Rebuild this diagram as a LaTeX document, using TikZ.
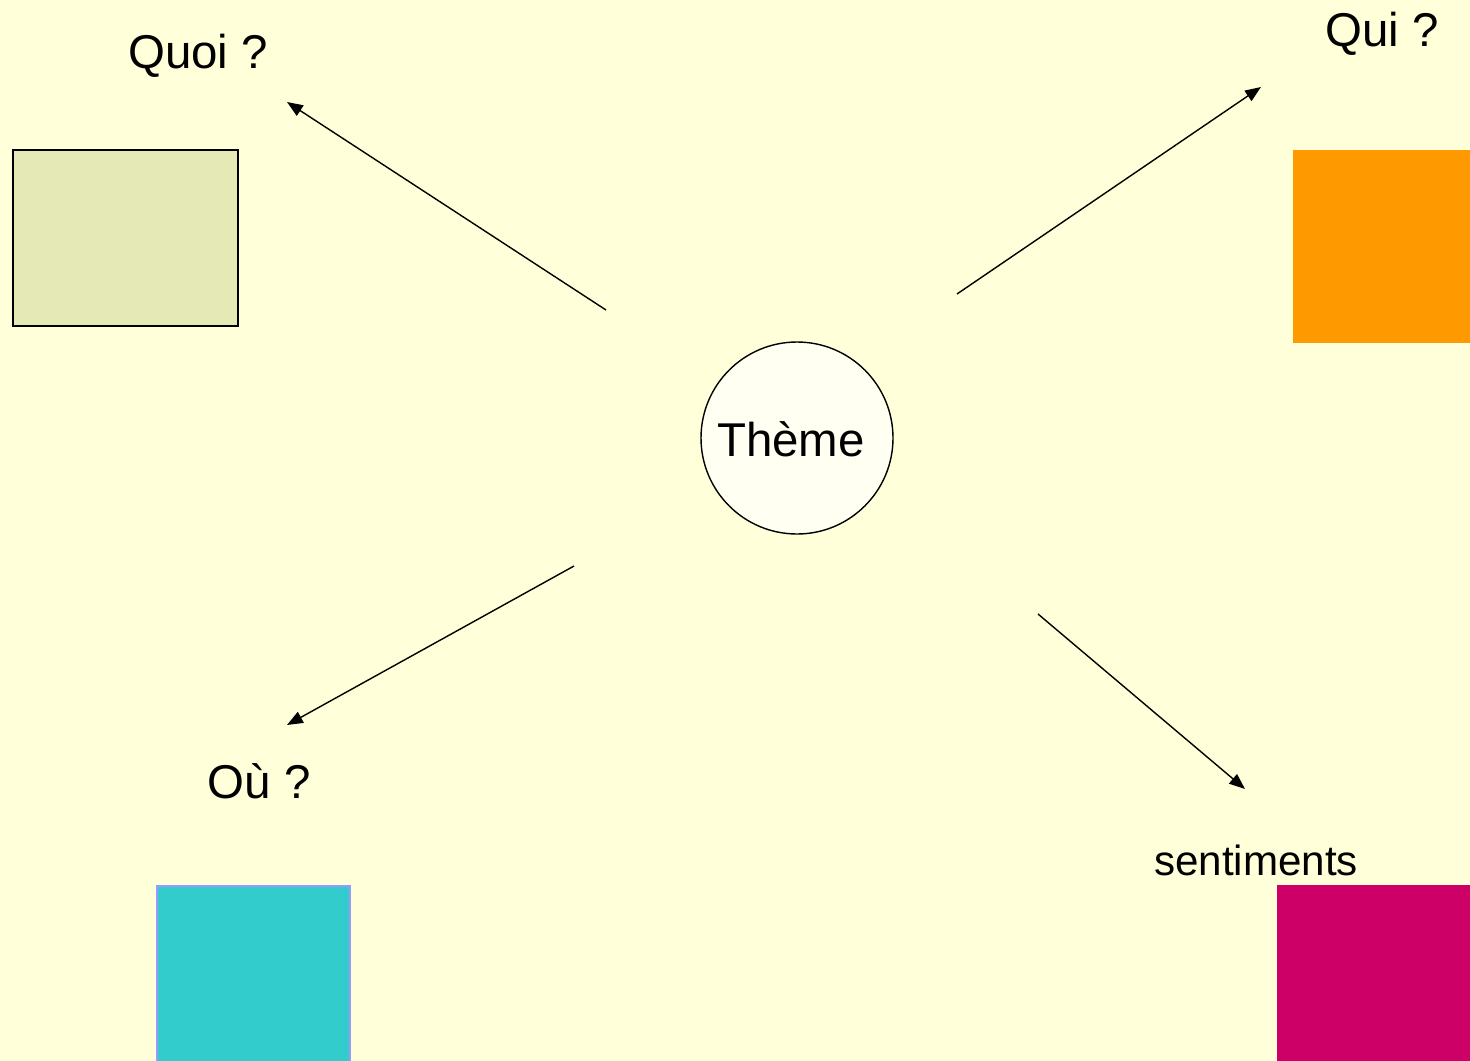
\documentclass[tikz,border=0pt]{standalone}
\usepackage{fontspec}
\setmainfont{Liberation Sans}
\usetikzlibrary{arrows.meta}
\definecolor{fond}{HTML}{FFFFD9}
\definecolor{vertpale}{HTML}{E5E9B5}
\definecolor{orange}{HTML}{FF9900}
\definecolor{turquoise}{HTML}{33CCCC}
\definecolor{lavande}{HTML}{9999FF}
\definecolor{framboise}{HTML}{CC0066}
\definecolor{creme}{HTML}{FFFFF2}
\tikzset{
  etiquette/.style={font=\fontsize{27}{32}\selectfont, inner sep=0pt},
  fleche/.style={-{Triangle[length=9pt,width=7pt]}, line width=0.8pt},
}
\begin{document}
\begin{tikzpicture}[x=0.02cm,y=-0.02cm]
      \fill[fond] (0,0) rectangle (1470,1061);
      \useasboundingbox (0,0) rectangle (1470,1061);
      % boxes
      \draw[fill=vertpale, line width=1.2pt] (13,150) rectangle (238,326);
      \fill[orange] (1293,150) rectangle (1470,343);
      \draw[fill=turquoise, draw=lavande, line width=0.8pt] (157,886) rectangle (350,1062);
      \fill[framboise] (1277,885) rectangle (1470,1061);
      \draw
        (797,438) node[circle, draw, fill=creme, minimum size=192*0.02cm, inner sep=0pt, line width=0.8pt] (theme){}
        (791,439) node[etiquette] (themetxt){Thème}
        (198,56) node[etiquette] (quoi){Quoi ?}
        (1382,34) node[etiquette] (qui){Qui ?}
        (259,781) node[etiquette] (ou){Où ?}
        (1256,860) node[etiquette, font=\fontsize{24}{29}\selectfont] (sentiments){sentiments};
      \coordinate (q1) at (606,310);
      \coordinate (q2) at (287,102);
      \coordinate (r1) at (957,294);
      \coordinate (r2) at (1261,87);
      \coordinate (o1) at (574,566);
      \coordinate (o2) at (287,725);
      \coordinate (s1) at (1038,614);
      \coordinate (s2) at (1245,789);
      \begin{scope}[fleche]
        \draw (q1) to (q2);
        \draw (r1) to (r2);
        \draw (o1) to (o2);
        \draw (s1) to (s2);
      \end{scope}
    \end{tikzpicture}
\end{document}
